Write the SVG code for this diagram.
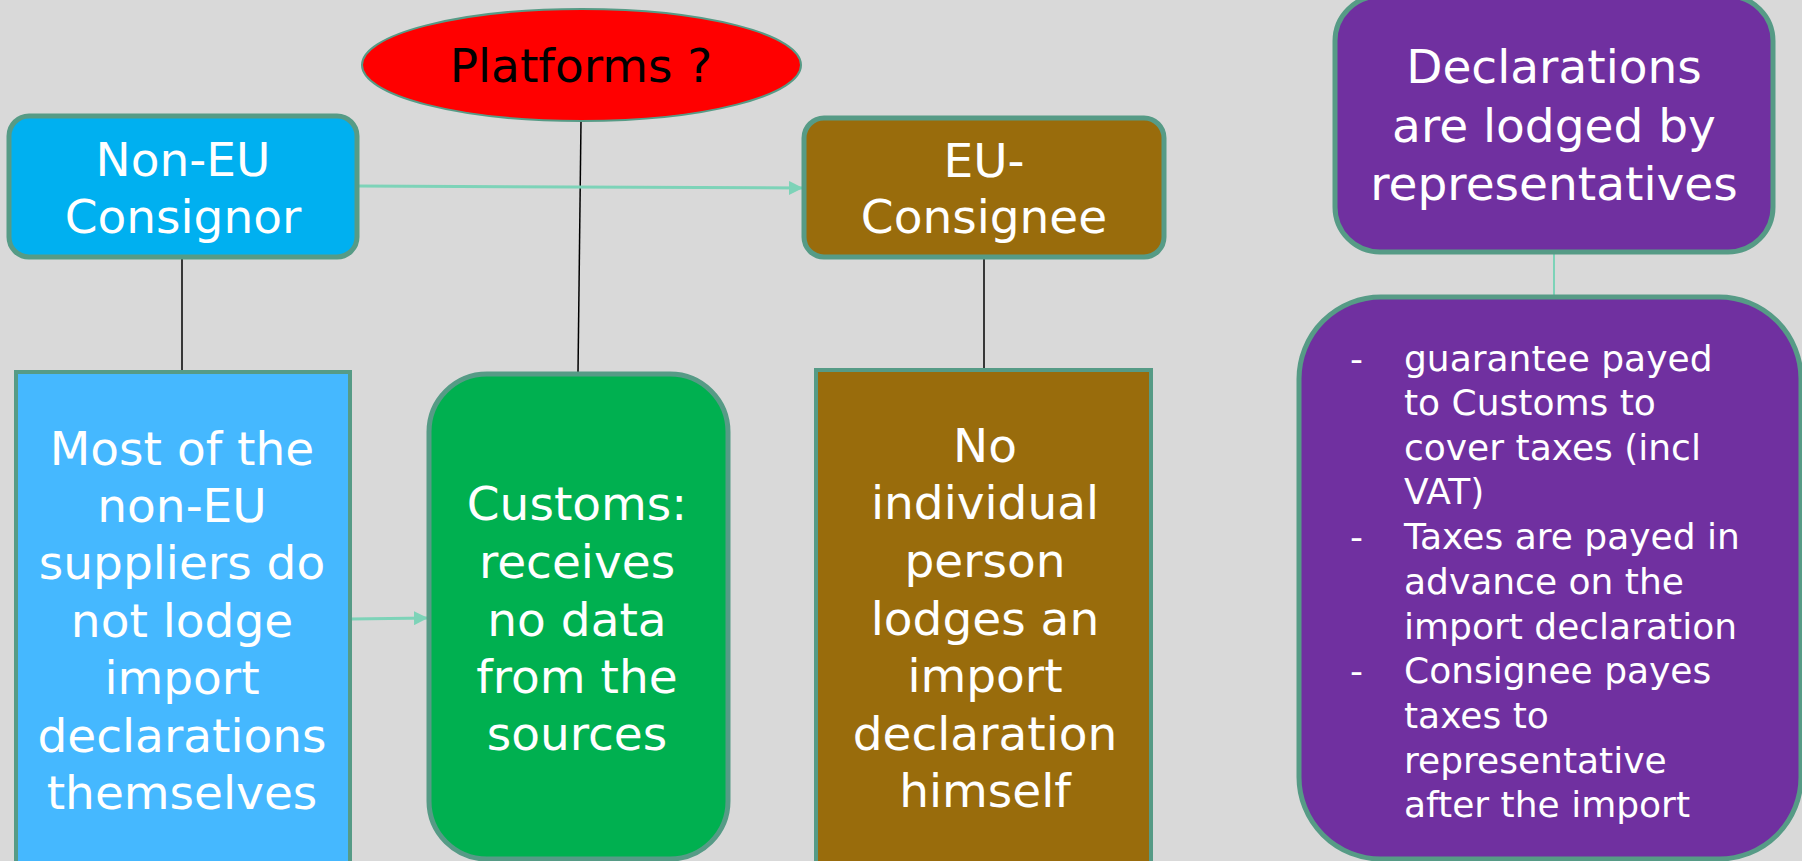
<svg xmlns="http://www.w3.org/2000/svg" width="1802" height="861" viewBox="0 0 1802 861">
<defs>
<marker id="ah" viewBox="0 0 10 10" refX="10" refY="5" markerWidth="14" markerHeight="14" markerUnits="userSpaceOnUse" orient="auto">
<path d="M0,0 L10,5 L0,10 Z" fill="#7dd3b8"/>
</marker>
<style>
.box{stroke:#569b86;stroke-width:5}
.t{font-family:"DejaVu Sans","Verdana",sans-serif;font-size:47px;fill:#ffffff;text-anchor:middle}
.s{font-family:"DejaVu Sans","Verdana",sans-serif;font-size:36px;fill:#ffffff}
.blk{stroke:#000000;stroke-width:1.5;fill:none}
.tea{stroke:#7dd3b8;stroke-width:3;fill:none}
</style>
</defs>
<rect width="1802" height="861" fill="#d9d9d9"/>
<g id="connectors">
<line class="blk" x1="182" y1="257" x2="182" y2="372"/>
<line class="blk" x1="581" y1="121" x2="578" y2="373"/>
<line class="blk" x1="984" y1="257" x2="984" y2="369"/>
<line class="tea" x1="357" y1="186" x2="803" y2="188" marker-end="url(#ah)"/>
<line class="tea" x1="351" y1="619" x2="428" y2="618" marker-end="url(#ah)"/>
<line stroke="#7dd3b8" stroke-width="2" x1="1554" y1="252" x2="1554" y2="296"/>
</g>
<g id="platforms">
<ellipse cx="581.5" cy="65" rx="219.5" ry="56" fill="#ff0000" stroke="#569b86" stroke-width="2"/>
<text x="581" y="82" style="font-family:'DejaVu Sans','Verdana',sans-serif;font-size:47px;fill:#000000;text-anchor:middle">Platforms ?</text>
</g>
<g id="non-eu-consignor">
<rect class="box" x="9" y="116" width="348" height="141" rx="20" fill="#00b0f0"/>
<text class="t" x="183" y="176">Non-EU</text>
<text class="t" x="183" y="233">Consignor</text>
</g>
<g id="eu-consignee">
<rect class="box" x="804" y="118" width="360" height="139" rx="20" fill="#996c0c"/>
<text class="t" x="984" y="177">EU-</text>
<text class="t" x="984" y="233">Consignee</text>
</g>
<g id="declarations">
<rect class="box" x="1335" y="-4" width="438" height="256" rx="45" fill="#7030a0"/>
<text class="t" x="1554" y="83">Declarations</text>
<text class="t" x="1554" y="142">are lodged by</text>
<text class="t" x="1554" y="200">representatives</text>
</g>
<g id="non-eu-suppliers">
<rect x="16" y="372" width="334" height="500" fill="#45b8ff" stroke="#569b86" stroke-width="4"/>
<text class="t" x="182" y="465">Most of the</text>
<text class="t" x="182" y="522">non-EU</text>
<text class="t" x="182" y="579">suppliers do</text>
<text class="t" x="182" y="637">not lodge</text>
<text class="t" x="182" y="694">import</text>
<text class="t" x="182" y="752">declarations</text>
<text class="t" x="182" y="809">themselves</text>
</g>
<g id="customs">
<rect class="box" x="429" y="374" width="299" height="485" rx="58" fill="#00b050"/>
<text class="t" x="577" y="520">Customs:</text>
<text class="t" x="577" y="578">receives</text>
<text class="t" x="577" y="636">no data</text>
<text class="t" x="577" y="693">from the</text>
<text class="t" x="577" y="750">sources</text>
</g>
<g id="no-individual">
<rect x="816" y="370" width="335" height="500" fill="#996c0c" stroke="#569b86" stroke-width="4"/>
<text class="t" x="985" y="462">No</text>
<text class="t" x="985" y="519">individual</text>
<text class="t" x="985" y="577">person</text>
<text class="t" x="985" y="635">lodges an</text>
<text class="t" x="985" y="692">import</text>
<text class="t" x="985" y="750">declaration</text>
<text class="t" x="985" y="807">himself</text>
</g>
<g id="representative-details">
<rect class="box" x="1299" y="297" width="502" height="562" rx="82" fill="#7030a0"/>
<text class="s" x="1350" y="371">-</text>
<text class="s" x="1404" y="371">guarantee payed</text>
<text class="s" x="1404" y="415">to Customs to</text>
<text class="s" x="1404" y="460">cover taxes (incl</text>
<text class="s" x="1404" y="504">VAT)</text>
<text class="s" x="1350" y="549">-</text>
<text class="s" x="1404" y="549">Taxes are payed in</text>
<text class="s" x="1404" y="594">advance on the</text>
<text class="s" x="1404" y="639">import declaration</text>
<text class="s" x="1350" y="683">-</text>
<text class="s" x="1404" y="683">Consignee payes</text>
<text class="s" x="1404" y="728">taxes to</text>
<text class="s" x="1404" y="773">representative</text>
<text class="s" x="1404" y="817">after the import</text>
</g>
</svg>
